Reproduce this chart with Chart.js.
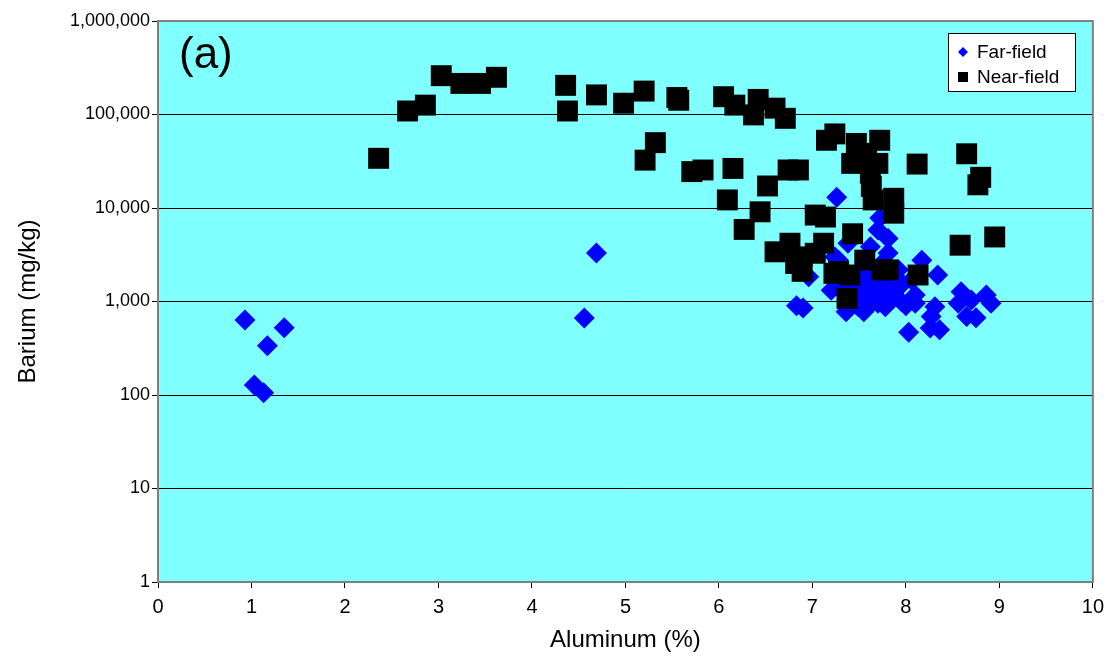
<!DOCTYPE html>
<html>
<head>
<meta charset="utf-8">
<script src="https://cdn.jsdelivr.net/npm/chart.js@4.4.1/dist/chart.umd.min.js"></script>
<style>
  html, body { margin: 0; padding: 0; background: #fff; }
</style>
</head>
<body>
<canvas id="baChart" width="1111" height="665"></canvas>
<script>
// far-field samples: aluminum (%) vs barium (mg/kg)
var farAl = [0.93, 1.03, 1.13, 1.17, 1.35, 4.56, 4.69, 6.83, 6.9, 6.96, 7.2, 7.24, 7.26, 7.28, 7.3, 7.35, 7.36, 7.38, 7.45, 7.45, 7.49, 7.5, 7.5, 7.55, 7.55, 7.6, 7.6, 7.62, 7.65, 7.65, 7.7, 7.72, 7.7, 7.7, 7.7, 7.75, 7.75, 7.78, 7.8, 7.81, 7.81, 7.85, 7.88, 7.9, 7.92, 7.95, 7.95, 8.0, 8.03, 8.06, 8.1, 8.1, 8.17, 8.26, 8.27, 8.31, 8.34, 8.36, 8.56, 8.59, 8.65, 8.7, 8.75, 8.86, 8.91];
var farBa = [635, 128, 106, 337, 525, 665, 3300, 900, 850, 1840, 1320, 3000, 13000, 2770, 1600, 1200, 775, 4200, 1500, 1300, 880, 2000, 1600, 775, 1100, 1770, 1400, 3860, 1200, 1000, 5800, 7800, 1440, 960, 1700, 2600, 1150, 880, 1550, 4730, 3300, 1050, 1270, 1800, 2180, 1500, 1000, 900, 470, 1700, 1170, 960, 2770, 520, 690, 880, 1920, 500, 960, 1275, 690, 1040, 670, 1175, 960];

// near-field samples
var nearAl = [2.36, 2.67, 2.86, 3.03, 3.24, 3.45, 3.62, 4.36, 4.38, 4.69, 4.98, 5.2, 5.21, 5.32, 5.55, 5.57, 5.71, 5.83, 6.05, 6.09, 6.15, 6.17, 6.27, 6.37, 6.42, 6.44, 6.52, 6.6, 6.6, 6.71, 6.74, 6.76, 6.82, 6.85, 6.89, 6.89, 7.03, 7.03, 7.12, 7.14, 7.15, 7.23, 7.24, 7.28, 7.37, 7.4, 7.42, 7.43, 7.47, 7.56, 7.58, 7.62, 7.63, 7.65, 7.7, 7.72, 7.74, 7.81, 7.87, 7.87, 8.12, 8.13, 8.58, 8.65, 8.77, 8.8, 8.95];
var nearBa = [34000, 109000, 126000, 260000, 215000, 215000, 250000, 205000, 109000, 162000, 132000, 178000, 32500, 50000, 152000, 142000, 24500, 25500, 155000, 12200, 26500, 126000, 5900, 99000, 145000, 9100, 17200, 117000, 3400, 91000, 25500, 4200, 2550, 25500, 3000, 2100, 8400, 3280, 4200, 8000, 53000, 2000, 62000, 2100, 1080, 1920, 30000, 5300, 49000, 2770, 38400, 23600, 17000, 12200, 30000, 53000, 2180, 2180, 12700, 8800, 29500, 1920, 4000, 38000, 17700, 21300, 4900];

var yTicks = [1, 10, 100, 1000, 10000, 100000, 1000000];
var seriesNames = ['Far-field', 'Near-field'];
var panelLabel = '(a)';

function toPoints(xs, ys) {
  return xs.map(function(x, i) { return {x: x, y: ys[i]}; });
}

// cyan plot area, frame, panel label and boxed legend
var plotDecor = {
  id: 'plotDecor',
  beforeDraw: function(chart) {
    var a = chart.chartArea, ctx = chart.ctx;
    ctx.save();
    ctx.fillStyle = '#80ffff';
    ctx.fillRect(a.left, a.top, a.right - a.left, a.bottom - a.top);
    ctx.restore();
  },
  afterDraw: function(chart) {
    var a = chart.chartArea, ctx = chart.ctx;
    ctx.save();
    ctx.strokeStyle = '#808080';
    ctx.lineWidth = 2;
    ctx.strokeRect(a.left, a.top, a.right - a.left, a.bottom - a.top);

    ctx.fillStyle = '#000';
    ctx.font = '44px "Liberation Sans", Arial, sans-serif';
    ctx.textBaseline = 'alphabetic';
    ctx.fillText(panelLabel, a.left + 21, a.top + 47);

    // legend box
    var bx = 948, by = 33, bw = 127, bh = 58;
    ctx.fillStyle = '#fff';
    ctx.fillRect(bx, by, bw, bh);
    ctx.strokeStyle = '#000';
    ctx.lineWidth = 1;
    ctx.strokeRect(bx + 0.5, by + 0.5, bw, bh);
    ctx.font = '19px "Liberation Sans", Arial, sans-serif';
    ctx.textBaseline = 'middle';
    chart.data.datasets.forEach(function(ds, i) {
      var cy = by + 19 + i * 25, cx = bx + 15;
      ctx.fillStyle = ds.backgroundColor;
      ctx.beginPath();
      if (ds.pointStyle === 'rectRot') {
        ctx.moveTo(cx - 5, cy); ctx.lineTo(cx, cy - 5);
        ctx.lineTo(cx + 5, cy); ctx.lineTo(cx, cy + 5);
      } else {
        ctx.rect(cx - 5, cy - 5, 10, 10);
      }
      ctx.closePath();
      ctx.fill();
      ctx.fillStyle = '#000';
      ctx.fillText(ds.label, bx + 29, cy + 1);
    });
    ctx.restore();
  }
};

new Chart(document.getElementById('baChart'), {
  type: 'scatter',
  data: {
    datasets: [
      {
        label: seriesNames[0],
        data: toPoints(farAl, farBa),
        pointStyle: 'rectRot',
        radius: 10.5,
        hoverRadius: 10.5,
        backgroundColor: '#0000ff',
        borderColor: '#0000ff',
        borderWidth: 0,
        order: 2
      },
      {
        label: seriesNames[1],
        data: toPoints(nearAl, nearBa),
        pointStyle: 'rect',
        radius: 14.8,
        hoverRadius: 14.8,
        backgroundColor: '#000000',
        borderColor: '#000000',
        borderWidth: 0,
        order: 1
      }
    ]
  },
  options: {
    responsive: false,
    animation: false,
    layout: { padding: { top: 21, right: 16, left: 0, bottom: 0 } },
    plugins: {
      legend: { display: false },
      tooltip: { enabled: false }
    },
    scales: {
      x: {
        type: 'linear',
        min: 0,
        max: 10,
        ticks: {
          stepSize: 1,
          padding: 7,
          color: '#000',
          font: { family: '"Liberation Sans Narrow", "Liberation Sans", Arial', size: 20 }
        },
        grid: { drawOnChartArea: false, drawTicks: true, tickLength: 6, color: '#000' },
        border: { color: '#606060', width: 2 },
        title: {
          display: true,
          text: 'Aluminum (%)',
          color: '#000',
          padding: { top: 0, bottom: 10 },
          font: { family: '"Liberation Sans", Arial', size: 24 }
        },
        afterFit: function(s) { s.height = 83; }
      },
      y: {
        type: 'logarithmic',
        min: 1,
        max: 1000000,
        afterBuildTicks: function(s) {
          s.ticks = yTicks.map(function(v) { return {value: v}; });
        },
        ticks: {
          padding: 2,
          color: '#000',
          font: { family: '"Liberation Sans", Arial', size: 18 },
          callback: function(v) { return Number(v).toLocaleString('en-US'); }
        },
        grid: { color: '#000', lineWidth: 1, tickLength: 6 },
        border: { color: '#606060', width: 2 },
        title: {
          display: true,
          text: 'Barium (mg/kg)',
          color: '#000',
          padding: { top: 14, bottom: 0 },
          font: { family: '"Liberation Sans", Arial', size: 24 }
        },
        afterFit: function(s) { s.width = 158; }
      }
    }
  },
  plugins: [plotDecor]
});
</script>
</body>
</html>
